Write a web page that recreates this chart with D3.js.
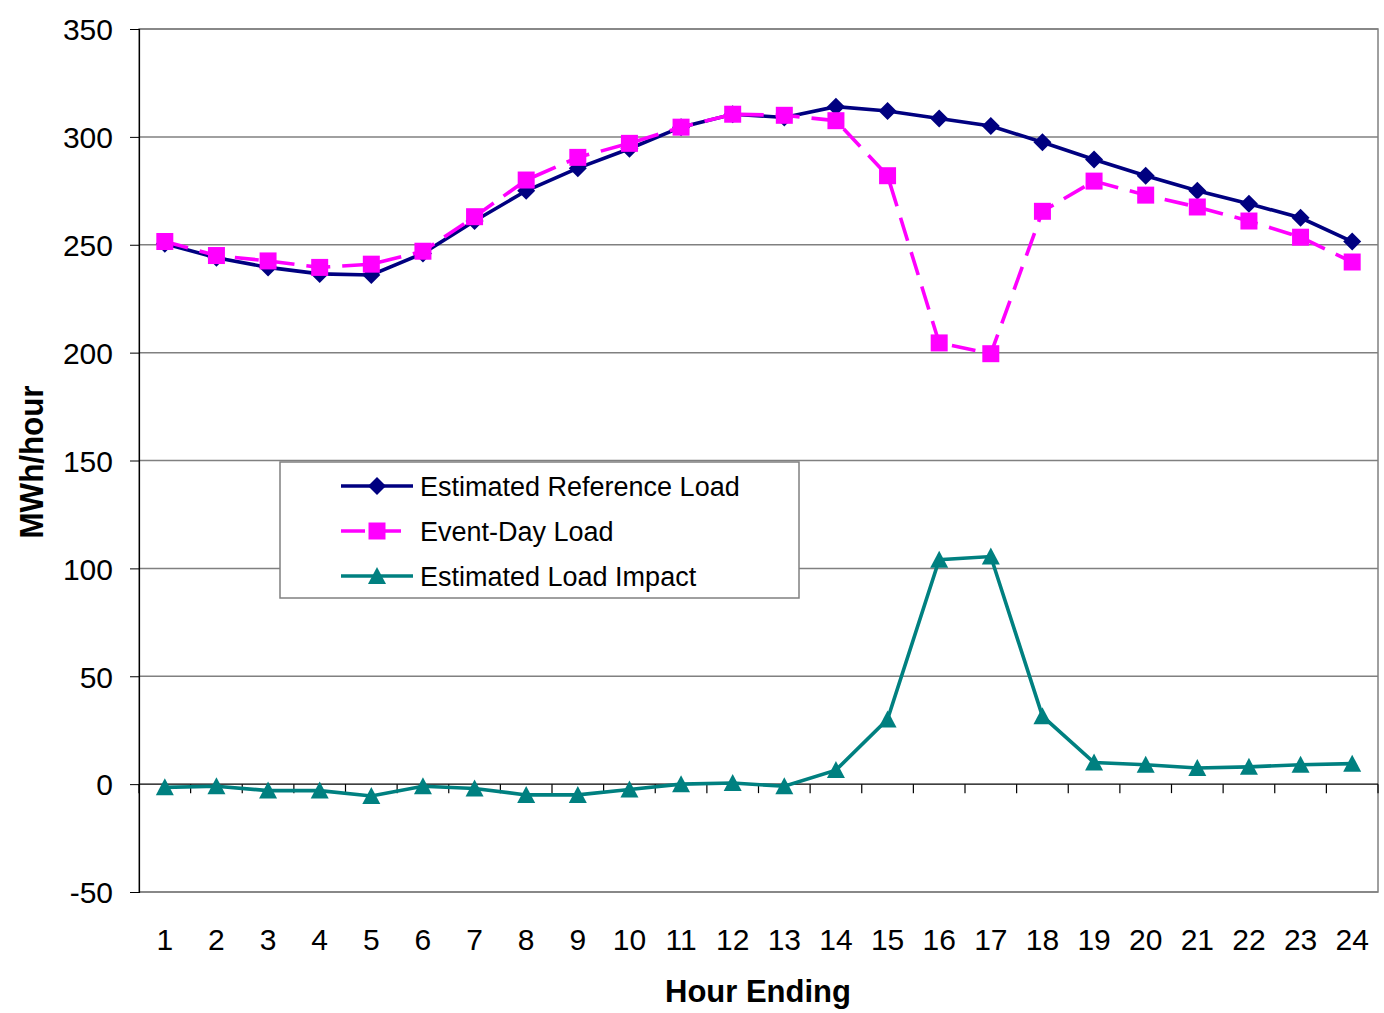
<!DOCTYPE html>
<html>
<head>
<meta charset="utf-8">
<script src="https://cdn.jsdelivr.net/npm/d3@7"></script>
<style>
  html, body { margin: 0; padding: 0; background: #fff; }
  svg { display: block; font-family: "Liberation Sans", Arial, sans-serif; }
</style>
</head>
<body>
<svg id="chart" width="1384" height="1013"></svg>
<script>
// Hourly loads (MWh/hour) for hours ending 1..24
const hours = d3.range(1, 25);
const referenceLoad = [250.5, 244, 239.5, 236.5, 236, 246, 261, 275, 285.5, 294.5, 304.5, 310.5, 309, 314, 312, 308.5, 305, 297.5, 289.5, 282, 275, 269, 262.5, 251.5];
const eventDayLoad  = [251.5, 245, 242.5, 239.5, 241, 247, 263, 280, 290.5, 297, 304.5, 310.5, 310, 307.5, 282, 204.5, 199.5, 265.5, 279.5, 273, 267.5, 261, 253.5, 242];
const loadImpact    = [-1.5, -1, -3, -3, -5.5, -1, -2, -5, -5, -2.5, 0, 0.5, -1, 6.5, 30, 104, 105.5, 31.5, 10, 9, 7.5, 8, 9, 9.5];
const yTicks = [-50, 0, 50, 100, 150, 200, 250, 300, 350];

const seriesNames = ["Estimated Reference Load", "Event-Day Load", "Estimated Load Impact"];

const svg = d3.select("#chart");
const plot = { left: 139, top: 29, right: 1378, bottom: 892 };

const x = d3.scaleBand().domain(hours).range([plot.left, plot.right]);
const y = d3.scaleLinear().domain([-50, 350]).range([plot.bottom, plot.top]);
const cx = h => x(h) + x.bandwidth() / 2;

// Horizontal gridlines
svg.append("g")
  .selectAll("line")
  .data(yTicks.filter(t => t !== 0))
  .join("line")
  .attr("x1", plot.left).attr("x2", plot.right)
  .attr("y1", d => y(d)).attr("y2", d => y(d))
  .attr("stroke", "#808080").attr("stroke-width", 1.5);

// Plot area border
svg.append("rect")
  .attr("x", plot.left).attr("y", plot.top)
  .attr("width", plot.right - plot.left).attr("height", plot.bottom - plot.top)
  .attr("fill", "none").attr("stroke", "#808080").attr("stroke-width", 1.5);

// Y axis
const yAxis = d3.axisLeft(y).tickValues(yTicks).tickSize(9).tickPadding(17).tickFormat(d => String(d));
const gy = svg.append("g").attr("transform", `translate(${plot.left},0)`).call(yAxis);
gy.select(".domain").attr("stroke", "#000").attr("stroke-width", 1.2);
gy.selectAll(".tick line").attr("stroke", "#000");
gy.selectAll("text").attr("font-size", 30).attr("fill", "#000")
  .attr("font-family", "Liberation Sans, Arial, sans-serif").attr("dy", "0.36em");

// Category axis crossing at zero, ticks between categories
const gx = svg.append("g").attr("transform", `translate(0,${y(0)})`);
gx.append("line").attr("x1", plot.left).attr("x2", plot.right).attr("stroke", "#000").attr("stroke-width", 1.2);
gx.selectAll("line.tick")
  .data(hours.concat([25]))
  .join("line")
  .attr("class", "tick")
  .attr("x1", (d, i) => plot.left + i * x.bandwidth())
  .attr("x2", (d, i) => plot.left + i * x.bandwidth())
  .attr("y1", 0).attr("y2", 9)
  .attr("stroke", "#000").attr("stroke-width", 1.2);

// Category labels below the plot area
svg.append("g")
  .selectAll("text")
  .data(hours)
  .join("text")
  .attr("x", d => cx(d))
  .attr("y", 950)
  .attr("text-anchor", "middle")
  .attr("font-size", 30)
  .text(d => d);

// Axis titles
svg.append("text")
  .attr("x", 758).attr("y", 1002)
  .attr("text-anchor", "middle")
  .attr("font-size", 31).attr("font-weight", "bold")
  .text("Hour Ending");

svg.append("text")
  .attr("transform", "translate(43,462) rotate(-90)")
  .attr("text-anchor", "middle")
  .attr("font-size", 33).attr("font-weight", "bold")
  .attr("textLength", 153).attr("lengthAdjust", "spacingAndGlyphs")
  .text("MWh/hour");

// Marker shapes
const diamond = () => "M0,-9L9,0L0,9L-9,0Z";
const square = () => "M-8.5,-8.5H8.5V8.5H-8.5Z";
const triangle = () => "M0,-9L9,8H-9Z";

const series = [
  { name: seriesNames[0], values: referenceLoad, color: "#000080", dash: null, marker: diamond },
  { name: seriesNames[1], values: eventDayLoad, color: "#FF00FF", dash: "24,12", marker: square },
  { name: seriesNames[2], values: loadImpact, color: "#008080", dash: null, marker: triangle }
];

const line = d3.line().x((d, i) => cx(hours[i])).y(d => y(d));

series.forEach(s => {
  const g = svg.append("g");
  g.append("path")
    .attr("d", line(s.values))
    .attr("fill", "none")
    .attr("stroke", s.color)
    .attr("stroke-width", 3.6)
    .attr("stroke-dasharray", s.dash);
  g.selectAll("path.marker")
    .data(s.values)
    .join("path")
    .attr("class", "marker")
    .attr("d", s.marker())
    .attr("transform", (d, i) => `translate(${cx(hours[i])},${y(d)})`)
    .attr("fill", s.color);
});

// Legend
const legend = svg.append("g").attr("transform", "translate(280,462)");
legend.append("rect")
  .attr("width", 519).attr("height", 136)
  .attr("fill", "#fff").attr("stroke", "#808080").attr("stroke-width", 1.5);
series.forEach((s, i) => {
  const yy = 24 + i * 45;
  legend.append("line")
    .attr("x1", 61).attr("x2", 133).attr("y1", yy).attr("y2", yy)
    .attr("stroke", s.color).attr("stroke-width", 3.6)
    .attr("stroke-dasharray", s.dash ? "24,12" : null);
  legend.append("path")
    .attr("d", s.marker())
    .attr("transform", `translate(97,${yy})`)
    .attr("fill", s.color);
  legend.append("text")
    .attr("x", 140).attr("y", yy + 10)
    .attr("font-size", 27)
    .text(s.name);
});
</script>
</body>
</html>
